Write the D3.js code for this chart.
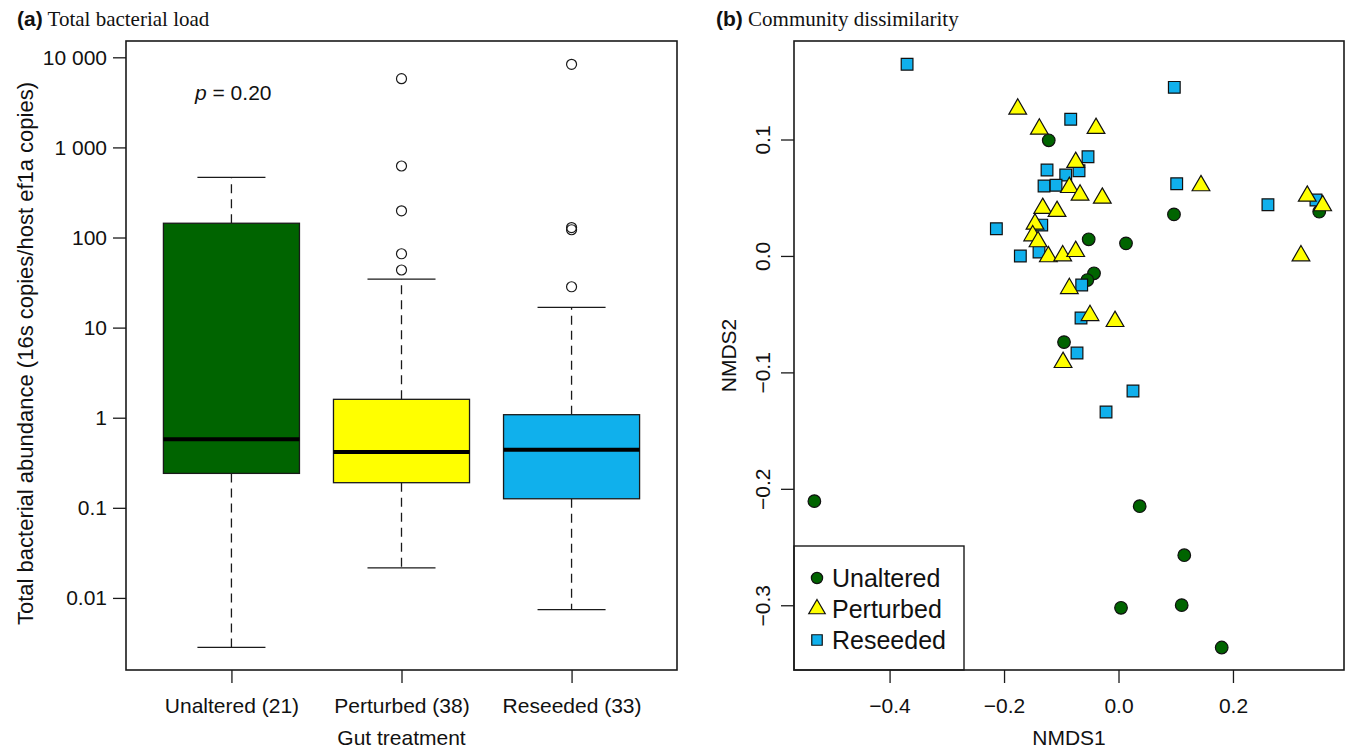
<!DOCTYPE html>
<html lang="en">
  <head>
    <meta charset="utf-8">
    <script src="https://d3js.org/d3.v7.min.js"></script>
    <style>
      body { margin: 0; background: #fff; }
      text { font-family: "Liberation Sans", Arial, sans-serif; fill: #111; }
      .serif { font-family: "Liberation Serif", "Times New Roman", serif; }
    </style>
  </head>
  <body>
    <svg width="1346" height="750"></svg>
    <script>
      // ---- panel (a) data: box summaries ----
      var groups = ["Unaltered", "Perturbed", "Reseeded"];
      var counts = [21, 38, 33];
      var groupColors = ["#006400", "#ffff00", "#10b0ec"];
      var whiskerLow = [0.00283, 0.0215, 0.0074];
      var q1 = [0.241, 0.19, 0.126];
      var medians = [0.575, 0.416, 0.44];
      var q3 = [144, 1.6, 1.08];
      var whiskerHigh = [466, 34.6, 16.8];
      var outliers = [[], [43.6, 66, 198, 622, 5790], [28.4, 122, 129, 8360]];
      var loadTicks = [0.01, 0.1, 1, 10, 100, 1000, 10000];
      var loadTickLabels = ["0.01", "0.1", "1", "10", "100", "1 000", "10 000"];

      // ---- panel (b) data: NMDS scores ----
      var nmdsUnaltered = [
        [-0.1219, 0.0993], [0.0969, 0.0357], [0.3507, 0.0380], [-0.0521, 0.0143],
        [0.0131, 0.0108], [-0.0428, -0.0149], [-0.0545, -0.0207], [-0.0952, -0.0740],
        [-0.5314, -0.2106], [0.0370, -0.2149], [0.1149, -0.2570], [0.0044, -0.3022],
        [0.1104, -0.2999], [0.1803, -0.3363]
      ];
      var nmdsReseeded = [
        [-0.3694, 0.1646], [0.0975, 0.1448], [-0.0835, 0.1174], [-0.0533, 0.0852],
        [-0.1249, 0.0738], [-0.0922, 0.0695], [-0.0690, 0.0732], [-0.1301, 0.0601],
        [-0.1092, 0.0607], [0.1017, 0.0620], [0.2611, 0.0440], [0.3450, 0.0480],
        [-0.2134, 0.0234], [-0.1341, 0.0265], [-0.1715, -0.0001], [-0.1389, 0.0034],
        [-0.0643, -0.0250], [-0.0655, -0.0533], [-0.0725, -0.0834], [0.0253, -0.1160],
        [-0.0218, -0.1340]
      ];
      var nmdsPerturbed = [
        [-0.1761, 0.1262], [-0.1383, 0.1090], [-0.0393, 0.1096], [-0.0748, 0.0804],
        [-0.0859, 0.0589], [-0.0672, 0.0523], [-0.0283, 0.0497], [0.1441, 0.0604],
        [-0.1324, 0.0409], [-0.1074, 0.0383], [0.3298, 0.0514], [0.3567, 0.0432],
        [-0.1459, 0.0274], [-0.1499, 0.0174], [-0.1406, 0.0123], [-0.1226, -0.0006],
        [-0.0975, 0.0002], [-0.0748, 0.0039], [0.3188, 0.0002], [-0.0859, -0.0279],
        [-0.0498, -0.0511], [-0.0061, -0.0562], [-0.0969, -0.0914]
      ];
      var nmdsXTicks = [-0.4, -0.2, 0.0, 0.2];
      var nmdsYTicks = [-0.3, -0.2, -0.1, 0.0, 0.1];

      var svg = d3.select("svg");
      var ink = "#1a1a1a";
      var fmtMinus = function(v) { return d3.format(".1f")(v).replace("-", "\u2212"); };

      // ================= panel (a) =================
      var boxArea = {left: 126, right: 677, top: 41, bottom: 670};
      var xA = d3.scaleLinear().domain([0.38, 3.62]).range([boxArea.left, boxArea.right]);
      var yA = d3.scaleLog()
        .domain([Math.pow(10, -2.8), Math.pow(10, 4.181)])
        .range([boxArea.bottom, boxArea.top]);

      var gA = svg.append("g");

      // axes
      var yAxisA = d3.axisLeft(yA)
        .tickValues(loadTicks)
        .tickFormat(function(d, i) { return loadTickLabels[i]; })
        .tickSize(13).tickPadding(6);
      gA.append("g")
        .attr("transform", `translate(${boxArea.left},0)`)
        .call(yAxisA)
        .call(function(g) { g.select(".domain").remove(); })
        .call(function(g) {
          g.selectAll("line").attr("stroke", ink).attr("stroke-width", 1.3);
          g.selectAll("text").attr("font-size", 21).attr("font-family", "Liberation Sans").attr("fill", "#111");
        });

      var xAxisA = d3.axisBottom(xA)
        .tickValues([1, 2, 3])
        .tickFormat(function(d, i) { return groups[i] + " (" + counts[i] + ")"; })
        .tickSize(13).tickPadding(15);
      gA.append("g")
        .attr("transform", `translate(0,${boxArea.bottom})`)
        .call(xAxisA)
        .call(function(g) { g.select(".domain").remove(); })
        .call(function(g) {
          g.selectAll("line").attr("stroke", ink).attr("stroke-width", 1.3);
          g.selectAll("text").attr("font-size", 21).attr("font-family", "Liberation Sans").attr("fill", "#111");
        });

      // whiskers, boxes, medians, outliers
      groups.forEach(function(name, i) {
        var cx = xA(i + 1);
        var dashed = [[q3[i], whiskerHigh[i]], [q1[i], whiskerLow[i]]];
        dashed.forEach(function(seg) {
          gA.append("line")
            .attr("x1", cx).attr("x2", cx)
            .attr("y1", yA(seg[0])).attr("y2", yA(seg[1]))
            .attr("stroke", ink).attr("stroke-width", 1.3)
            .attr("stroke-dasharray", "9,6");
        });
        [whiskerHigh[i], whiskerLow[i]].forEach(function(v) {
          gA.append("line")
            .attr("x1", xA(i + 1 - 0.2)).attr("x2", xA(i + 1 + 0.2))
            .attr("y1", yA(v)).attr("y2", yA(v))
            .attr("stroke", ink).attr("stroke-width", 1.3);
        });
        gA.append("rect")
          .attr("x", xA(i + 1 - 0.4))
          .attr("width", xA(i + 1 + 0.4) - xA(i + 1 - 0.4))
          .attr("y", yA(q3[i]))
          .attr("height", yA(q1[i]) - yA(q3[i]))
          .attr("fill", groupColors[i])
          .attr("stroke", ink).attr("stroke-width", 1.3);
        gA.append("line")
          .attr("x1", xA(i + 1 - 0.4)).attr("x2", xA(i + 1 + 0.4))
          .attr("y1", yA(medians[i])).attr("y2", yA(medians[i]))
          .attr("stroke", "#000").attr("stroke-width", 4);
        gA.selectAll(null)
          .data(outliers[i])
          .enter().append("circle")
          .attr("cx", cx)
          .attr("cy", function(d) { return yA(d); })
          .attr("r", 5)
          .attr("fill", "none")
          .attr("stroke", ink).attr("stroke-width", 1.2);
      });

      // frame
      gA.append("rect")
        .attr("x", boxArea.left).attr("y", boxArea.top)
        .attr("width", boxArea.right - boxArea.left)
        .attr("height", boxArea.bottom - boxArea.top)
        .attr("fill", "none").attr("stroke", ink).attr("stroke-width", 1.6);

      // labels
      var pText = gA.append("text").attr("x", 195).attr("y", 99.5).attr("font-size", 21);
      pText.append("tspan").attr("font-style", "italic").text("p");
      pText.append("tspan").text(" = 0.20");

      gA.append("text")
        .attr("transform", `translate(33,${(boxArea.top + boxArea.bottom) / 2 - 2}) rotate(-90)`)
        .attr("text-anchor", "middle")
        .attr("font-size", 22)
        .text("Total bacterial abundance (16s copies/host ef1a copies)");
      gA.append("text")
        .attr("x", (boxArea.left + boxArea.right) / 2)
        .attr("y", 745)
        .attr("text-anchor", "middle")
        .attr("font-size", 21)
        .text("Gut treatment");

      var titleA = gA.append("text").attr("x", 17).attr("y", 26).attr("font-size", 21);
      titleA.append("tspan").attr("font-weight", "bold").text("(a)");
      titleA.append("tspan").attr("class", "serif").attr("font-family", "Liberation Serif").text(" Total bacterial load");

      // ================= panel (b) =================
      var sc = {left: 794, right: 1344, top: 41, bottom: 670};
      var xB = d3.scaleLinear().domain([-0.567, 0.394]).range([sc.left, sc.right]);
      var yB = d3.scaleLinear().domain([-0.3556, 0.1846]).range([sc.bottom, sc.top]);

      var gB = svg.append("g");

      gB.append("g")
        .attr("transform", `translate(${sc.left},0)`)
        .call(d3.axisLeft(yB).tickValues(nmdsYTicks).tickFormat(fmtMinus).tickSize(13))
        .call(function(g) { g.select(".domain").remove(); })
        .call(function(g) {
          g.selectAll("line").attr("stroke", ink).attr("stroke-width", 1.3);
          g.selectAll("text")
            .attr("font-size", 21).attr("font-family", "Liberation Sans").attr("fill", "#111")
            .attr("x", 0).attr("y", -24).attr("dy", null)
            .attr("text-anchor", "middle")
            .attr("transform", "rotate(-90)");
        });

      gB.append("g")
        .attr("transform", `translate(0,${sc.bottom})`)
        .call(d3.axisBottom(xB).tickValues(nmdsXTicks).tickFormat(fmtMinus).tickSize(13).tickPadding(15))
        .call(function(g) { g.select(".domain").remove(); })
        .call(function(g) {
          g.selectAll("line").attr("stroke", ink).attr("stroke-width", 1.3);
          g.selectAll("text").attr("font-size", 21).attr("font-family", "Liberation Sans").attr("fill", "#111");
        });

      var series = [
        {name: "Unaltered", pts: nmdsUnaltered, shape: d3.symbolCircle, size: 125, color: groupColors[0]},
        {name: "Reseeded", pts: nmdsReseeded, shape: d3.symbolSquare, size: 137, color: groupColors[2]},
        {name: "Perturbed", pts: nmdsPerturbed, shape: d3.symbolTriangle, size: 136, color: groupColors[1]}
      ];
      series.forEach(function(s) {
        gB.selectAll(null)
          .data(s.pts)
          .enter().append("path")
          .attr("d", d3.symbol().type(s.shape).size(s.size))
          .attr("transform", function(d) { return `translate(${xB(d[0])},${yB(d[1])})`; })
          .attr("fill", s.color)
          .attr("stroke", "#111").attr("stroke-width", 1.2);
      });

      // legend
      var legendItems = [
        {name: "Unaltered", shape: d3.symbolCircle, size: 100, color: groupColors[0]},
        {name: "Perturbed", shape: d3.symbolTriangle, size: 118, color: groupColors[1]},
        {name: "Reseeded", shape: d3.symbolSquare, size: 110, color: groupColors[2]}
      ];
      gB.append("rect")
        .attr("x", sc.left).attr("y", 546)
        .attr("width", 170).attr("height", sc.bottom - 546)
        .attr("fill", "#fff").attr("stroke", ink).attr("stroke-width", 1.4);
      var leg = gB.selectAll(".leg")
        .data(legendItems)
        .enter().append("g")
        .attr("transform", function(d, i) { return `translate(817,${578 + i * 31})`; });
      leg.append("path")
        .attr("d", function(d) { return d3.symbol().type(d.shape).size(d.size)(); })
        .attr("fill", function(d) { return d.color; })
        .attr("stroke", "#111").attr("stroke-width", 1.2);
      leg.append("text")
        .attr("x", 15).attr("y", 9)
        .attr("font-size", 25)
        .text(function(d) { return d.name; });

      // frame
      gB.append("rect")
        .attr("x", sc.left).attr("y", sc.top)
        .attr("width", sc.right - sc.left)
        .attr("height", sc.bottom - sc.top)
        .attr("fill", "none").attr("stroke", ink).attr("stroke-width", 1.6);

      gB.append("text")
        .attr("x", (sc.left + sc.right) / 2).attr("y", 745)
        .attr("text-anchor", "middle").attr("font-size", 21)
        .text("NMDS1");
      gB.append("text")
        .attr("transform", `translate(736,${(sc.top + sc.bottom) / 2}) rotate(-90)`)
        .attr("text-anchor", "middle").attr("font-size", 21)
        .text("NMDS2");

      var titleB = gB.append("text").attr("x", 716).attr("y", 26).attr("font-size", 21);
      titleB.append("tspan").attr("font-weight", "bold").text("(b)");
      titleB.append("tspan").attr("font-family", "Liberation Serif").text(" Community dissimilarity");
    </script>
  </body>
</html>
